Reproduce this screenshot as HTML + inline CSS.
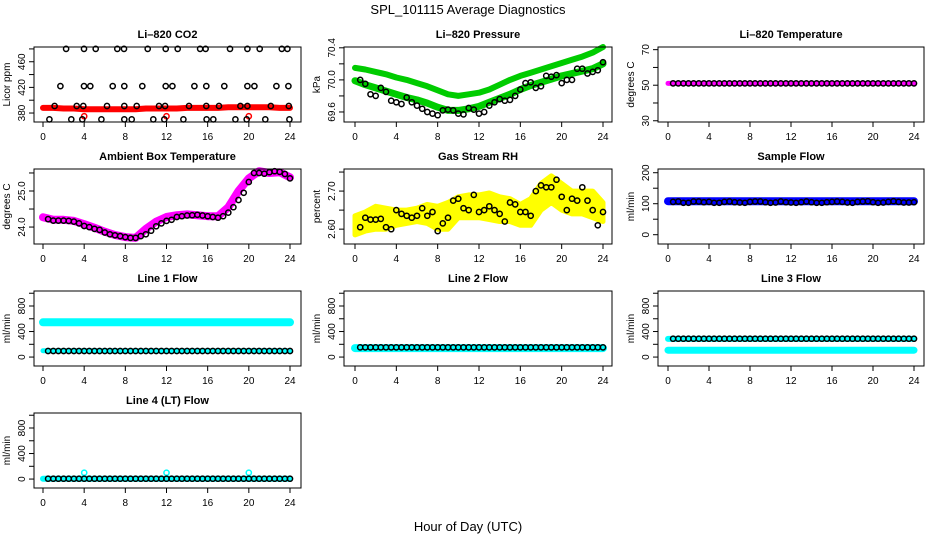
<!DOCTYPE html>
<html><head><meta charset="utf-8"><title>SPL_101115 Average Diagnostics</title>
<style>
html,body{margin:0;padding:0;background:#fff;}
svg{display:block;font-family:"Liberation Sans",Arial,sans-serif;}
</style></head>
<body>
<svg id="fig" width="936" height="540" viewBox="0 0 936 540" xmlns="http://www.w3.org/2000/svg">
<text x="468" y="14" text-anchor="middle" font-size="13">SPL_101115  Average Diagnostics</text>
<text x="468" y="531" text-anchor="middle" font-size="13">Hour of Day (UTC)</text>
</svg>
<script>
// ---- shared data ----
const hours = [0.5,1,1.5,2,2.5,3,3.5,4,4.5,5,5.5,6,6.5,7,7.5,8,8.5,9,9.5,10,10.5,11,11.5,12,12.5,13,13.5,14,14.5,15,15.5,16,16.5,17,17.5,18,18.5,19,19.5,20,20.5,21,21.5,22,22.5,23,23.5,24];
const lineHours = [0,1,2,3,4,5,6,7,8,9,10,11,12,13,14,15,16,17,18,19,20,21,22,23,24];
const xTicks = [0,4,8,12,16,20,24];

// CO2
const co2Hours = [2.24,3.98,5.12,7.22,7.87,10.17,11.92,13.09,15.26,15.8,18.17,19.86,21.06,23.2,23.75,
  1.69,3.98,4.6,6.77,7.9,9.65,11.92,12.57,14.71,15.87,17.62,19.86,20.54,22.68,23.84,
  1.13,3.27,3.92,6.22,7.9,9.1,11.27,11.86,14.19,15.87,17.1,19.18,19.86,22.13,23.88,
  0.62,2.75,3.82,5.67,7.9,8.62,10.72,11.79,13.64,15.9,16.55,18.69,19.79,21.6,23.94];
const co2Vals = [480,480,480,480,480,480,480,480,480,480,480,480,480,480,480,
  422,422,422,422,422,422,422,422,422,422,422,422,422,422,422,
  391,391,391,391,391,391,391,391,391,391,391,391,391,391,391,
  370,370,370,370,370,370,370,370,370,370,370,370,370,370,370];
const co2Line = [388,388,387,387,386,386,386,386,386,386,387,387,387,387,388,388,388,388,389,389,389,389,389,388,388];
const co2OutHours = [4,12,20];
const co2OutVals = [375,375,375];

// Pressure
const presUpper = [70.15,70.13,70.1,70.07,70.03,70.0,69.96,69.92,69.87,69.82,69.8,69.82,69.84,69.88,69.94,70.0,70.05,70.09,70.13,70.17,70.21,70.25,70.29,70.34,70.41];
const presLower = [69.99,69.94,69.9,69.86,69.82,69.78,69.75,69.71,69.66,69.62,69.62,69.64,69.67,69.72,69.77,69.82,69.88,69.93,69.97,70.01,70.05,70.08,70.11,70.14,70.2];
const presBlack = [70.0,69.95,69.82,69.8,69.9,69.85,69.74,69.72,69.7,69.78,69.72,69.68,69.64,69.6,69.58,69.56,69.62,69.63,69.62,69.58,69.57,69.65,69.63,69.58,69.6,69.68,69.72,69.76,69.74,69.75,69.8,69.88,69.96,69.97,69.9,69.92,70.05,70.04,70.06,69.96,70.0,70.0,70.14,70.14,70.08,70.1,70.12,70.22];

// Li-820 temperature
const tempLine = [51,51,51,51,51,51,51,51,51,51,51,51,51,51,51,51,51,51,51,51,51,51,51,51,51];
const tempBlack = [51,51,51,51,51,51,51,51,51,51,51,51,51,51,51,51,51,51,51,51,51,51,51,51,51,51,51,51,51,51,51,51,51,51,51,51,51,51,51,51,51,51,51,51,51,51,51,51];

// Ambient box temperature
const ambLine = [24.27,24.2,24.2,24.17,24.08,23.98,23.87,23.78,23.72,23.7,23.95,24.15,24.28,24.33,24.35,24.33,24.3,24.3,24.55,25.0,25.35,25.55,25.5,25.52,25.38];
const ambBlack = [24.22,24.18,24.18,24.18,24.17,24.15,24.1,24.03,24.0,23.95,23.92,23.85,23.8,23.77,23.75,23.72,23.7,23.7,23.75,23.8,23.9,24.02,24.1,24.17,24.2,24.28,24.3,24.32,24.33,24.34,24.32,24.3,24.28,24.26,24.3,24.4,24.55,24.75,24.95,25.25,25.5,25.5,25.48,25.52,25.55,25.53,25.47,25.35];

// Gas stream RH
const rhBlack = [2.605,2.63,2.625,2.625,2.627,2.605,2.6,2.65,2.64,2.635,2.63,2.635,2.655,2.635,2.645,2.595,2.615,2.63,2.675,2.68,2.655,2.65,2.69,2.645,2.65,2.66,2.65,2.64,2.62,2.67,2.665,2.645,2.645,2.635,2.7,2.715,2.71,2.71,2.73,2.685,2.65,2.68,2.675,2.71,2.675,2.65,2.61,2.645];
const rhLow = [2.585,2.595,2.6,2.6,2.61,2.615,2.62,2.615,2.6,2.6,2.63,2.63,2.63,2.625,2.62,2.62,2.61,2.61,2.65,2.67,2.65,2.64,2.64,2.63,2.62];
const rhHigh = [2.635,2.645,2.66,2.655,2.65,2.65,2.655,2.665,2.66,2.67,2.685,2.69,2.69,2.695,2.685,2.68,2.665,2.68,2.72,2.74,2.72,2.7,2.7,2.7,2.67];

// Sample flow
const sfLine = [108,108,108,108,108,108,108,108,108,108,108,108,108,108,108,108,108,108,108,108,108,108,108,108,108];
const sfBlack = [106,107,103,103,107,107,105,106,103,103,106,107,105,104,103,106,107,107,105,103,104,107,105,104,103,105,107,105,103,103,105,106,107,106,104,103,106,107,108,105,103,104,106,108,106,104,104,105];

// Line flows
const l1High = [545,545,545,545,545,545,545,545,545,545,545,545,545,545,545,545,545,545,545,545,545,545,545,545,545];
const l1Low = [100,100,100,100,100,100,100,100,100,100,100,100,100,100,100,100,100,100,100,100,100,100,100,100,100];
const l1Black = [95,95,95,95,95,95,95,95,95,95,95,95,95,95,95,95,95,95,95,95,95,95,95,95,95,95,95,95,95,95,95,95,95,95,95,95,95,95,95,95,95,95,95,95,95,95,95,95];
const l2Line = [140,140,140,140,140,140,140,140,140,140,140,140,140,140,140,140,140,140,140,140,140,140,140,140,140];
const l2Black = [152,152,152,152,152,152,152,152,152,152,152,152,152,152,152,152,152,152,152,152,152,152,152,152,152,152,152,152,152,152,152,152,152,152,152,152,152,152,152,152,152,152,152,152,152,152,152,152];
const l3High = [285,285,285,285,285,285,285,285,285,285,285,285,285,285,285,285,285,285,285,285,285,285,285,285,285];
const l3Low = [108,108,108,108,108,108,108,108,108,108,108,108,108,108,108,108,108,108,108,108,108,108,108,108,108];
const l3Black = [288,288,288,288,288,288,288,288,288,288,288,288,288,288,288,288,288,288,288,288,288,288,288,288,288,288,288,288,288,288,288,288,288,288,288,288,288,288,288,288,288,288,288,288,288,288,288,288];
const l4Line = [5,5,5,5,5,5,5,5,5,5,5,5,5,5,5,5,5,5,5,5,5,5,5,5,5];
const l4Black = [5,5,5,5,5,5,5,5,5,5,5,5,5,5,5,5,5,5,5,5,5,5,5,5,5,5,5,5,5,5,5,5,5,5,5,5,5,5,5,5,5,5,5,5,5,5,5,5];
const l4OutHours = [4,12,20];
const l4OutVals = [100,100,100];

const NS = "http://www.w3.org/2000/svg";
const fig = document.getElementById('fig');
const colBox = [[34,301,43,290],[344,612,355,603],[658,924,668,914]];
const rowTop = [47,169,291,413], rowH = 75;

function mk(tag, attrs, parent){
  const e = document.createElementNS(NS, tag);
  for (const k in attrs) e.setAttribute(k, attrs[k]);
  parent.appendChild(e);
  return e;
}

function panel(p){
  const [bl, br, x0, x24] = colBox[p.col];
  const top = rowTop[p.row], bot = top + rowH;
  const g = document.createElementNS(NS,'g');
  
  
  fig.appendChild(g);
  const xs = h => x0 + (x24 - x0) * h / 24;
  const ys = v => bot - (v - p.ylim[0]) / (p.ylim[1] - p.ylim[0]) * rowH;
  p.xs = xs; p.ys = ys; p.g = g;

  const t = mk('text', {x:(bl+br)/2, y:top-9, 'text-anchor':'middle', 'font-size':11, 'font-weight':'bold'}, g);
  t.textContent = p.title;
  
  

  const yl = mk('text', {transform:`translate(${bl-24},${(top+bot)/2}) rotate(-90)`, 'text-anchor':'middle', 'font-size':10}, g);
  yl.textContent = p.ylab;
  
  

  // x axis
  for (const h of xTicks){
    const x = xs(h);
    mk('line', {x1:x, x2:x, y1:bot, y2:bot+5, stroke:'#000'}, g);
    const tl = mk('text', {x:x, y:bot+18, 'text-anchor':'middle', 'font-size':10}, g);
    tl.textContent = h;
    
    
  }
  // y axis
  p.yticks.forEach((v,i)=>{
    const y = ys(v);
    mk('line', {x1:bl-5, x2:bl, y1:y, y2:y, stroke:'#000'}, g);
    if (p.ylabels[i] !== ''){
      const tl = mk('text', {transform:`translate(${bl-9},${y}) rotate(-90)`, 'text-anchor':'middle', 'font-size':10}, g);
      tl.textContent = p.ylabels[i];
      
      
    }
  });
  return p;
}

function finishBox(p){
  const [bl, br] = colBox[p.col];
  const top = rowTop[p.row];
  const r = mk('rect', {x:bl, y:top, width:br-bl, height:rowH, fill:'none', stroke:'#000', 'stroke-width':1}, p.g);
  
  
}

function thickLine(p, xsArr, vals, color, w, name){
  const d = vals.map((v,i)=>(i?'L':'M')+p.xs(xsArr[i]).toFixed(1)+','+p.ys(v).toFixed(1)).join(' ');
  const e = mk('path', {d:d, fill:'none', stroke:color, 'stroke-width':w, 'stroke-linecap':'round', 'stroke-linejoin':'round'}, p.g);
  
  
}

function band(p, xsArr, lo, hi, color, name){
  let d = hi.map((v,i)=>(i?'L':'M')+p.xs(xsArr[i]).toFixed(1)+','+p.ys(v).toFixed(1)).join(' ');
  for (let i=lo.length-1;i>=0;i--) d += ' L'+p.xs(xsArr[i]).toFixed(1)+','+p.ys(lo[i]).toFixed(1);
  d += ' Z';
  const e = mk('path', {d:d, fill:color, stroke:color, 'stroke-width':5, 'stroke-linejoin':'round'}, p.g);
  
  
}

function pts(p, xsArr, vals, color, name){
  vals.forEach((v,i)=>{
    const c = mk('circle', {cx:p.xs(xsArr[i]).toFixed(1), cy:p.ys(v).toFixed(1), r:2.6, fill:'none', stroke:color, 'stroke-width':1.5}, p.g);
    
    
  });
}

const flowTicks = [0,200,400,600,800,1000], flowLabels = ['0','','400','','800',''];

// Panel 1: CO2
let p = panel({name:'panel-co2', col:0, row:0, title:'Li\u2013820 CO2', ylab:'Licor ppm', ylim:[366,483], yticks:[380,400,420,440,460,480], ylabels:['380','','420','','460','']});
thickLine(p, lineHours, co2Line, '#ff0000', 6, 'co2-line');
pts(p, co2OutHours, co2OutVals, '#ff0000', 'co2-outlier-point');
pts(p, co2Hours, co2Vals, '#000', 'co2-point');
finishBox(p);

// Panel 2: Pressure
p = panel({name:'panel-pressure', col:1, row:0, title:'Li\u2013820 Pressure', ylab:'kPa', ylim:[69.475,70.41], yticks:[69.6,69.8,70.0,70.2,70.4], ylabels:['69.6','','70.0','','70.4']});
thickLine(p, lineHours, presUpper, '#00cc00', 6, 'pressure-upper-line');
thickLine(p, lineHours, presLower, '#00cc00', 7, 'pressure-lower-line');
pts(p, hours, presBlack, '#000', 'pressure-point');
finishBox(p);

// Panel 3: Li-820 temperature
p = panel({name:'panel-li820-temperature', col:2, row:0, title:'Li\u2013820 Temperature', ylab:'degrees C', ylim:[29.3,71.5], yticks:[30,40,50,60,70], ylabels:['30','','50','','70']});
thickLine(p, lineHours, tempLine, '#ff00ff', 5, 'temperature-line');
pts(p, hours, tempBlack, '#000', 'temperature-point');
finishBox(p);

// Panel 4: Ambient
p = panel({name:'panel-ambient-temperature', col:0, row:1, title:'Ambient Box Temperature', ylab:'degrees C', ylim:[23.53,25.61], yticks:[24.0,24.5,25.0,25.5], ylabels:['24.0','','25.0','']});
thickLine(p, lineHours, ambLine, '#ff00ff', 8, 'ambient-line');
pts(p, hours, ambBlack, '#000', 'ambient-point');
finishBox(p);

// Panel 5: RH
p = panel({name:'panel-gas-rh', col:1, row:1, title:'Gas Stream RH', ylab:'percent', ylim:[2.561,2.758], yticks:[2.60,2.65,2.70,2.75], ylabels:['2.60','','2.70','']});
band(p, lineHours, rhLow, rhHigh, '#ffff00', 'rh-band');
pts(p, hours, rhBlack, '#000', 'rh-point');
finishBox(p);

// Panel 6: Sample flow
p = panel({name:'panel-sample-flow', col:2, row:1, title:'Sample Flow', ylab:'ml/min', ylim:[-30,212], yticks:[0,50,100,150,200], ylabels:['0','','100','','200']});
thickLine(p, lineHours, sfLine, '#0000ff', 8, 'sample-flow-line');
pts(p, hours, sfBlack, '#000', 'sample-flow-point');
finishBox(p);

// Panel 7: Line 1
p = panel({name:'panel-line1-flow', col:0, row:2, title:'Line 1 Flow', ylab:'ml/min', ylim:[-140,1035], yticks:flowTicks, ylabels:flowLabels});
thickLine(p, lineHours, l1High, '#00ffff', 8, 'line1-high-line');
thickLine(p, lineHours, l1Low, '#00ffff', 5, 'line1-low-line');
pts(p, hours, l1Black, '#000', 'line1-point');
finishBox(p);

// Panel 8: Line 2
p = panel({name:'panel-line2-flow', col:1, row:2, title:'Line 2 Flow', ylab:'ml/min', ylim:[-140,1035], yticks:flowTicks, ylabels:flowLabels});
thickLine(p, lineHours, l2Line, '#00ffff', 8, 'line2-line');
pts(p, hours, l2Black, '#000', 'line2-point');
finishBox(p);

// Panel 9: Line 3
p = panel({name:'panel-line3-flow', col:2, row:2, title:'Line 3 Flow', ylab:'ml/min', ylim:[-140,1035], yticks:flowTicks, ylabels:flowLabels});
thickLine(p, lineHours, l3High, '#00ffff', 6, 'line3-high-line');
thickLine(p, lineHours, l3Low, '#00ffff', 7, 'line3-low-line');
pts(p, hours, l3Black, '#000', 'line3-point');
finishBox(p);

// Panel 10: Line 4
p = panel({name:'panel-line4-flow', col:0, row:3, title:'Line 4 (LT) Flow', ylab:'ml/min', ylim:[-140,1035], yticks:flowTicks, ylabels:flowLabels});
thickLine(p, lineHours, l4Line, '#00ffff', 6, 'line4-line');
pts(p, l4OutHours, l4OutVals, '#00ffff', 'line4-outlier-point');
pts(p, hours, l4Black, '#000', 'line4-point');
finishBox(p);
</script>
</body></html>
